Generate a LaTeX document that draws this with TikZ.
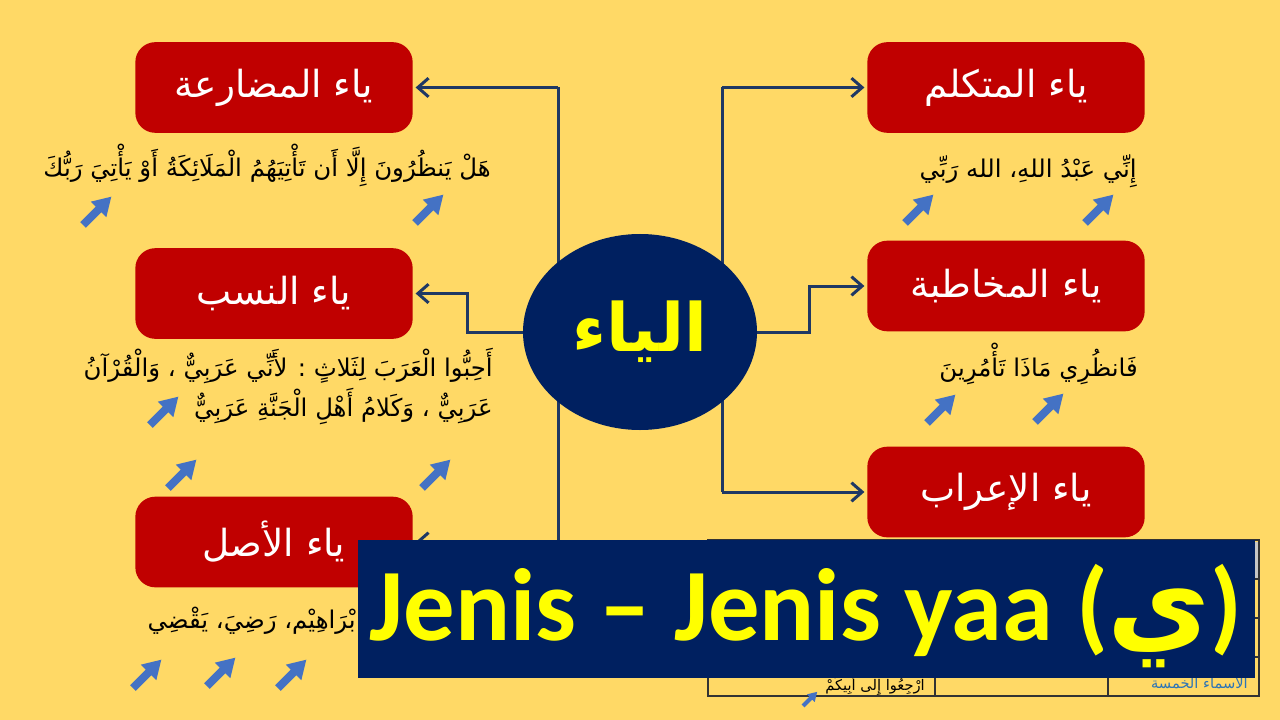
\documentclass[tikz,border=0pt]{standalone}
\usepackage{fontspec}
\setmainfont{Carlito}
\newfontfamily\arabicfont[Script=Arabic]{DejaVu Sans}
\TeXXeTstate=1
\usetikzlibrary{arrows.meta,shapes.geometric}
\definecolor{bgcol}{HTML}{FFD966}
\definecolor{boxred}{HTML}{C00000}
\definecolor{navy}{HTML}{002060}
\definecolor{lineblue}{HTML}{1F3864}
\definecolor{arrowblue}{HTML}{4472C4}
\definecolor{cellblue}{HTML}{2E75B6}
\definecolor{banneryellow}{HTML}{FFFF00}
\pgfdeclarelayer{bglayer}
\pgfdeclarelayer{midlayer}
\pgfsetlayers{bglayer,midlayer,main}
\tikzset{
  redbox/.style={fill=boxred, rounded corners=15pt, minimum width=208pt, minimum height=68pt,
    inner sep=0pt, text=white, font=\arabicfont\fontsize{28}{32}\selectfont},
  conn/.style={draw=lineblue, line width=2.25pt},
  tipped/.style={-{Straight Barb[length=8pt,width=14pt]}, shorten >=2pt},
  example/.style={inner sep=0pt, text=black, font=\arabicfont\fontsize{18.3}{20}\selectfont},
  tbl/.style={draw=black!80, line width=1.1pt},
  cellt/.style={inner sep=0pt, font=\arabicfont\fontsize{11}{13}\selectfont},
  barrow/.pic={\fill[arrowblue] (0,-4) -- (22,-4) -- (22,-11) -- (40,0) -- (22,11) -- (22,4) -- (0,4) -- cycle;}
}
\begin{document}
\begin{tikzpicture}[x=0.75pt,y=-0.75pt]
\useasboundingbox (0,0) rectangle (1280,720);
\begin{pgfonlayer}{bglayer}
  \fill[bgcol] (0,0) rectangle (1280,720);
\end{pgfonlayer}

% central ellipse
\node[ellipse, fill=navy, minimum width=175.5pt, minimum height=147pt, inner sep=0pt,
  text=banneryellow, font=\arabicfont\bfseries\fontsize{50}{56}\selectfont] (c) at (640,332) {\beginR الياء\endR};

% boxes
\node[redbox] (b1) at (274,87.5) {\beginR ياء المضارعة\endR};
\node[redbox] (b2) at (274,293.5) {\beginR ياء النسب\endR};
\node[redbox] (b3) at (274,542) {\beginR ياء الأصل\endR};
\node[redbox] (b4) at (1006,87.5) {\beginR ياء المتكلم\endR};
\node[redbox] (b5) at (1006,286) {\beginR ياء المخاطبة\endR};
\node[redbox] (b6) at (1006,492) {\beginR ياء الإعراب\endR};

% connectors
\coordinate (lt) at (558,87.5);
\coordinate (lb) at (558,542);
\coordinate (rt) at (722,87.5);
\coordinate (rb) at (722,492);
\begin{pgfonlayer}{midlayer}
  % table behind the banner
  \draw[tbl] (708,540) rectangle (1259,696);
  \draw[tbl] (935,540) -- (935,696);
  \draw[tbl] (1108,540) -- (1108,696);
  \draw[tbl] (708,579) -- (1259,579);
  \draw[tbl] (708,618) -- (1259,618);
  \draw[tbl] (708,657) -- (1259,657);
  \fill[gray!45] (1254,542) rectangle (1258.4,578);
  \draw[conn] (lt) -- (lb);
  \draw[conn] (rt) -- (rb);
  \draw[conn,tipped] (lt) -- (b1.east);
  \draw[conn,tipped] (lb) -- (b3.east);
  \draw[conn,tipped] (c.west) -- ++(-55,0) |- (b2.east);
  \draw[conn,tipped] (rt) -- (b4.west);
  \draw[conn,tipped] (rb) -- (b6.west);
  \draw[conn,tipped] (c.east) -- ++(52,0) |- (b5.west);
\end{pgfonlayer}

% example texts
\node[example, anchor=base east] (t1) at (491,177)
  {\beginR هَلْ يَنظُرُونَ إِلَّا أَن تَأْتِيَهُمُ الْمَلَائِكَةُ أَوْ يَأْتِيَ رَبُّكَ\endR};
\node[example, anchor=base east, text depth=2pt] (t2a) at (493,376)
  {\beginR أَحِبُّوا الْعَرَبَ لِثَلاثٍ : لأَنِّي عَرَبِيٌّ ، وَالْقُرْآنُ\endR};
\node[example, anchor=base east, text height=12pt] (t2b) at (493,416)
  {\beginR عَرَبِيٌّ ، وَكَلامُ أَهْلِ الْجَنَّةِ عَرَبِيٌّ\endR};
\node[example, anchor=base east] (t3) at (356,628)
  {\beginR بْرَاهِيْم، رَضِيَ، يَقْضِي\endR};
\node[example, anchor=base east] (t4) at (1137,178)
  {\beginR إِنِّي عَبْدُ اللهِ، الله رَبِّي\endR};
\node[example, anchor=base east] (t5) at (1138,376)
  {\beginR فَانظُرِي مَاذَا تَأْمُرِينَ\endR};

% table cell texts
\node[cellt, anchor=base east] (tc1) at (925,690) {\beginR ارْجِعُوا إِلَى أَبِيكُمْ\endR};
\node[cellt, anchor=base east, text=cellblue] (tc2) at (1248,688) {\beginR الأسماء الخمسة\endR};

% blue pointer arrows
\pic[rotate=45] at (83,225) {barrow};
\pic[rotate=45] at (415,223) {barrow};
\pic[rotate=45] at (150,425) {barrow};
\pic[rotate=45] at (168,488) {barrow};
\pic[rotate=45] at (422,488) {barrow};
\pic[rotate=45] at (133,688) {barrow};
\pic[rotate=45] at (207,686) {barrow};
\pic[rotate=45] at (278,688) {barrow};
\pic[rotate=45] at (905,223) {barrow};
\pic[rotate=45] at (1085,223) {barrow};
\pic[rotate=45] at (927,423) {barrow};
\pic[rotate=45] at (1035,422) {barrow};
\pic[rotate=45, scale=0.5] at (803,706) {barrow};

% banner
\node[fill=navy, minimum width=672.75pt, minimum height=103.5pt, inner sep=0pt, anchor=north west] (ban) at (358,540) {};
\node[anchor=base, inner sep=0pt, text=banneryellow, font=\bfseries\fontsize{77}{88}\selectfont] (title) at (806,640)
  {Jenis – Jenis yaa ({\arabicfont\bfseries\fontsize{84}{88}\selectfont\beginR ي\endR})};
\end{tikzpicture}
\end{document}
